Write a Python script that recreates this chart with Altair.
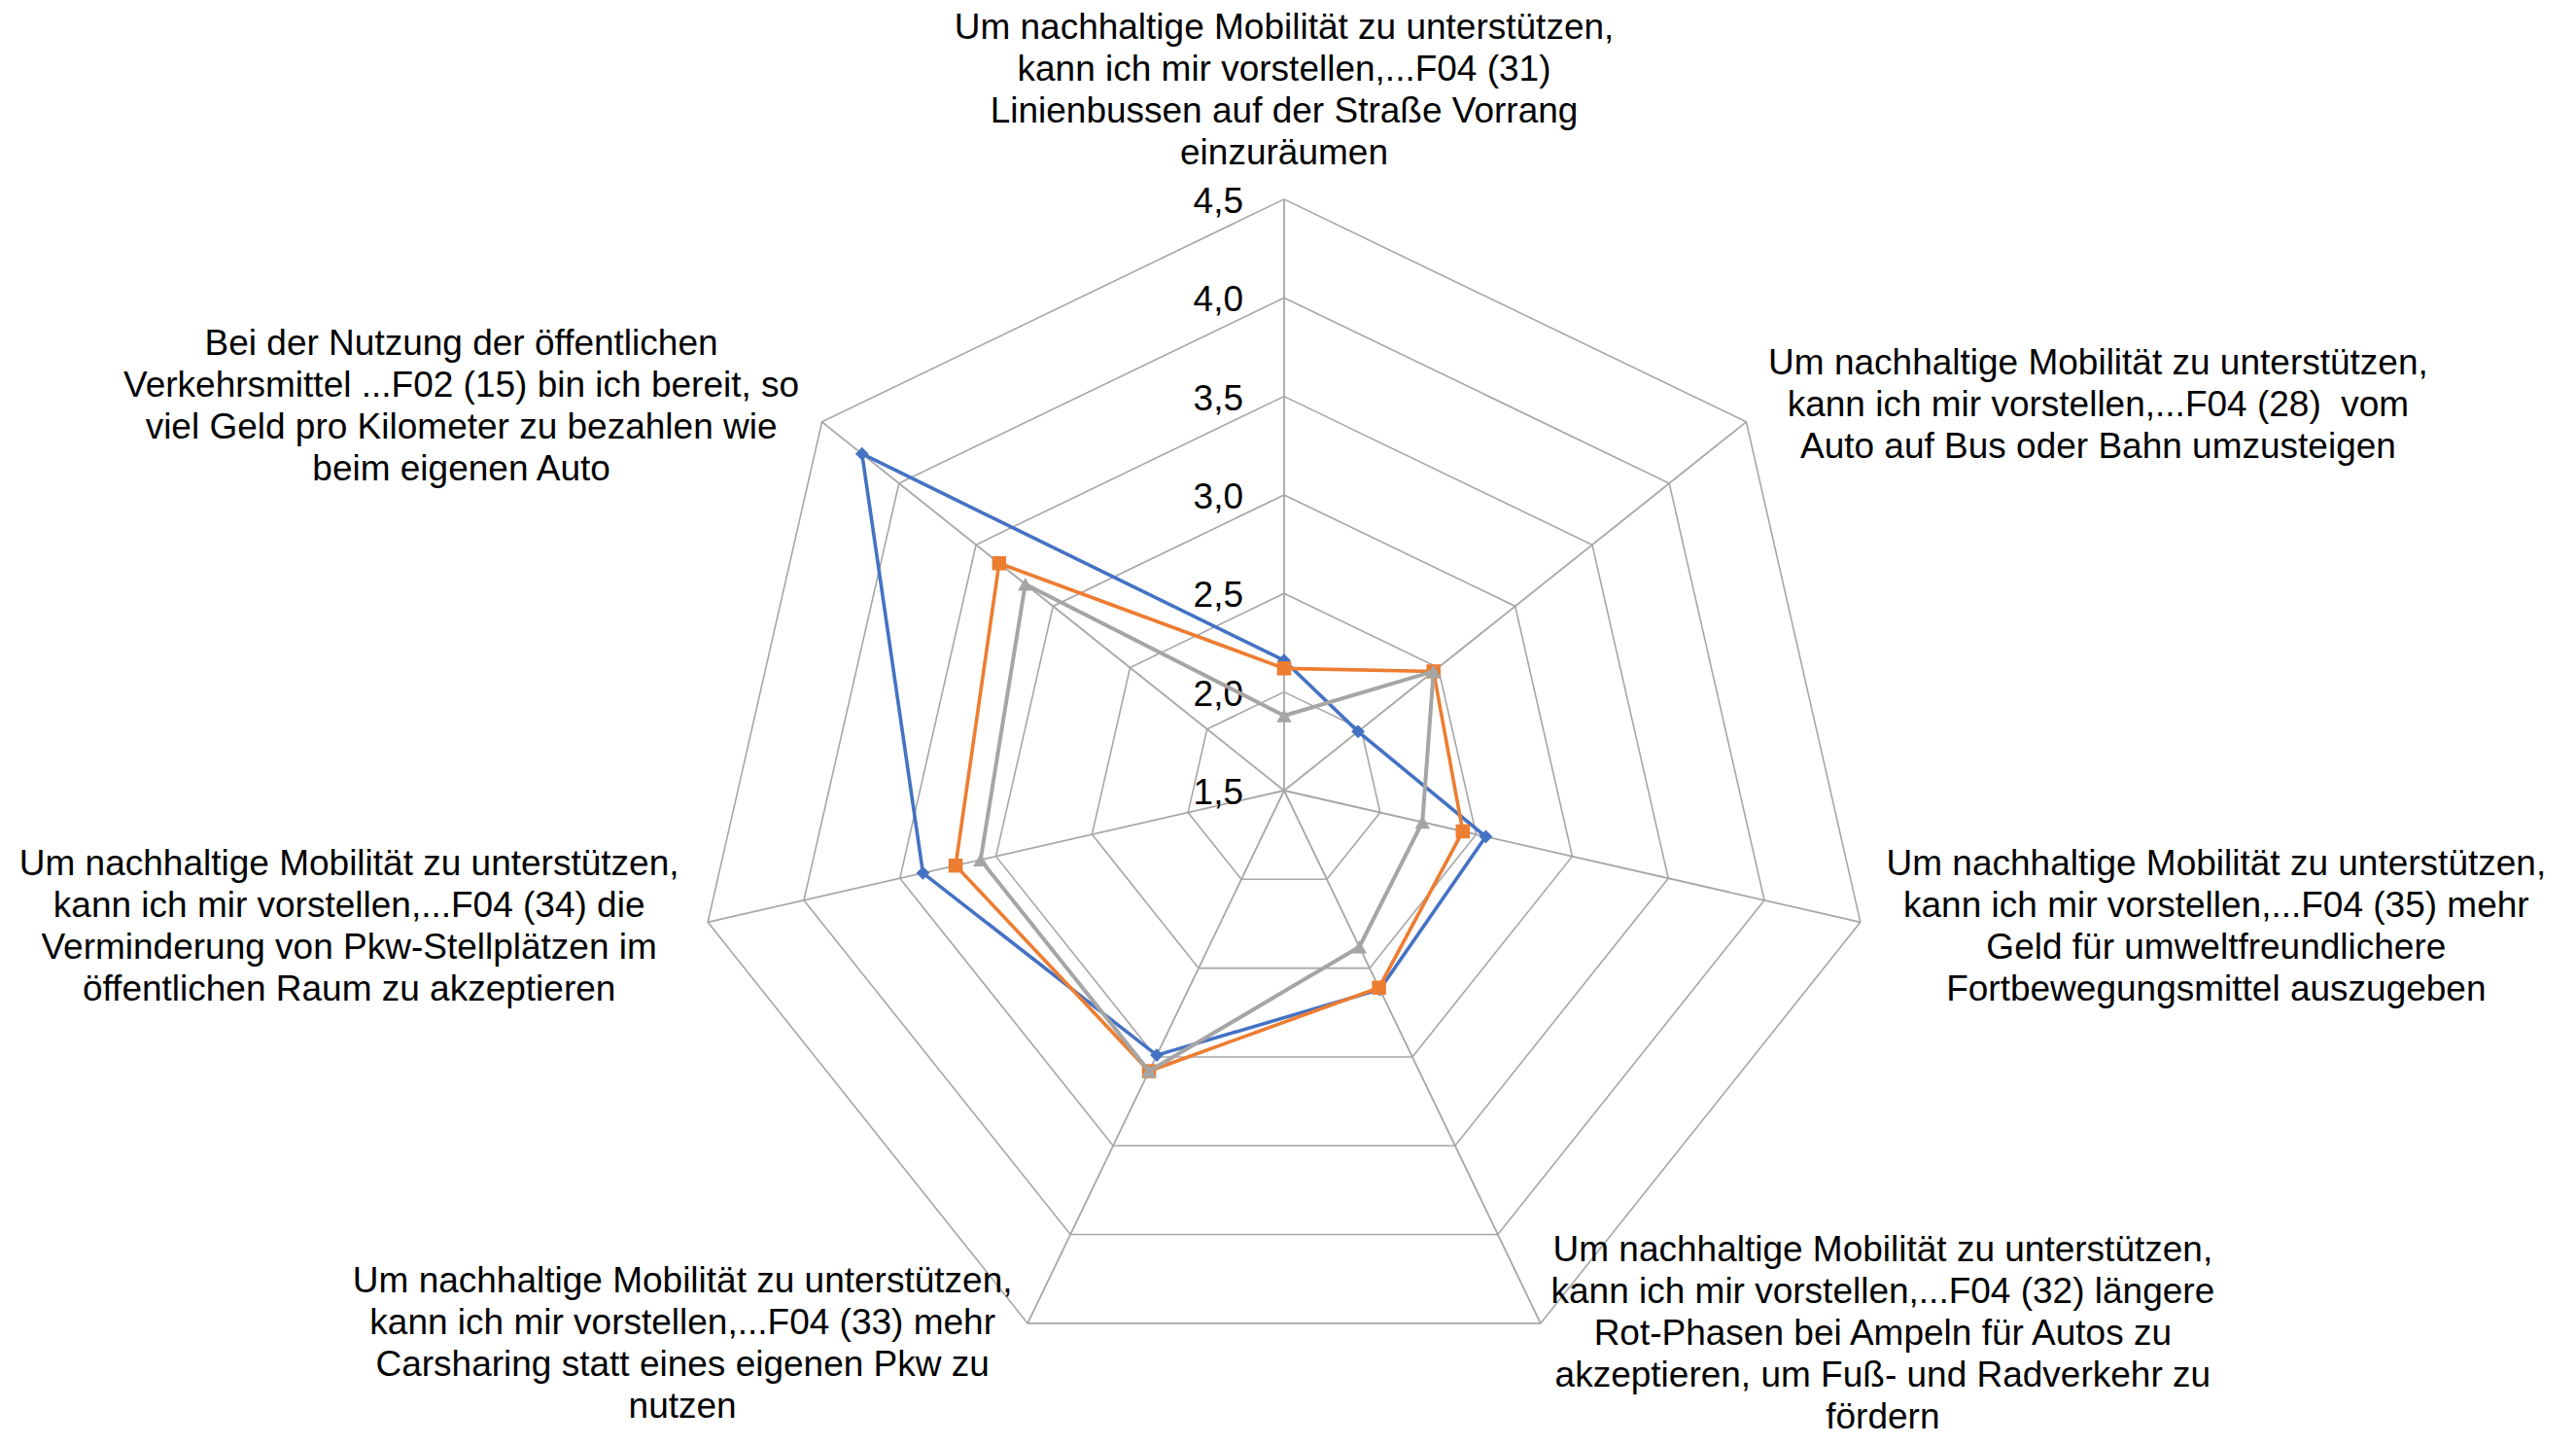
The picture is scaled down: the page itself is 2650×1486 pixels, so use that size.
import math
import altair as alt
import pandas as pd

# ---------------- data ----------------
categories = [
    "Um nachhaltige Mobilität zu unterstützen,\nkann ich mir vorstellen,...F04 (31)\nLinienbussen auf der Straße Vorrang\neinzuräumen",
    "Um nachhaltige Mobilität zu unterstützen,\nkann ich mir vorstellen,...F04 (28)\u00a0 vom\nAuto auf Bus oder Bahn umzusteigen",
    "Um nachhaltige Mobilität zu unterstützen,\nkann ich mir vorstellen,...F04 (35) mehr\nGeld für umweltfreundlichere\nFortbewegungsmittel auszugeben",
    "Um nachhaltige Mobilität zu unterstützen,\nkann ich mir vorstellen,...F04 (32) längere\nRot-Phasen bei Ampeln für Autos zu\nakzeptieren, um Fuß- und Radverkehr zu\nfördern",
    "Um nachhaltige Mobilität zu unterstützen,\nkann ich mir vorstellen,...F04 (33) mehr\nCarsharing statt eines eigenen Pkw zu\nnutzen",
    "Um nachhaltige Mobilität zu unterstützen,\nkann ich mir vorstellen,...F04 (34) die\nVerminderung von Pkw-Stellplätzen im\nöffentlichen Raum zu akzeptieren",
    "Bei der Nutzung der öffentlichen\nVerkehrsmittel ...F02 (15) bin ich bereit, so\nviel Geld pro Kilometer zu bezahlen wie\nbeim eigenen Auto",
]
series_names = ["Reihe 1", "Reihe 2", "Reihe 3"]
series_1 = [2.16, 1.98, 2.55, 2.62, 2.99, 3.38, 4.24]
series_2 = [2.12, 2.47, 2.43, 2.61, 3.08, 3.21, 3.35]
series_3 = [1.88, 2.47, 2.22, 2.38, 3.08, 3.08, 3.18]
tick_values = [1.5, 2.0, 2.5, 3.0, 3.5, 4.0, 4.5]
tick_labels = ["1,5", "2,0", "2,5", "3,0", "3,5", "4,0", "4,5"]

# ---------------- layout / style ----------------
N = len(categories)
R_MIN = tick_values[0]
R_MAX = tick_values[-1]
W, H = 2634, 1470
CX, CY = 1313, 805           # centre of the radar in plot pixels
PX_PER_UNIT = 202.7
XDOM = [-CX / PX_PER_UNIT, (W - CX) / PX_PER_UNIT]
YDOM = [-(H - CY) / PX_PER_UNIT, CY / PX_PER_UNIT]
FONT = "Liberation Sans"
FS = 37
LH = 43
GRID = "#a6a6a6"

series_colors = ["#4472C4", "#ED7D31", "#A5A5A5"]
series_shapes = ["diamond", "square", "triangle-up"]
series_sizes = [190, 210, 240]
series_widths = [3.6, 3.6, 4.0]

# offsets of each label block centre from the outer vertex (pixels)
label_offsets = [(0, -111), (362, -17), (366, 5), (352, 11),
                 (-355, 22), (-369, 5), (-371, -15)]

xs = alt.Scale(domain=XDOM, nice=False, zero=False)
ys = alt.Scale(domain=YDOM, nice=False, zero=False)


def polar(chart):
    return chart.transform_calculate(
        r=f"datum.value - {R_MIN}",
        theta=f"datum.idx * 2 * PI / {N}",
    ).transform_calculate(
        x="datum.r * sin(datum.theta)",
        y="datum.r * cos(datum.theta)",
    )


X = alt.X("x:Q", scale=xs, axis=None)
Y = alt.Y("y:Q", scale=ys, axis=None)

# grid rings
ring_rows = []
for lv in tick_values[1:]:
    for k in range(N + 1):
        ring_rows.append({"level": lv, "value": lv, "idx": k % N, "order": k})
rings = polar(alt.Chart(pd.DataFrame(ring_rows))).mark_line(
    color=GRID, strokeWidth=1.6
).encode(x=X, y=Y, detail="level:N", order="order:Q")

# spokes
spoke_df = pd.DataFrame({"idx": list(range(N)), "value": [R_MAX] * N})
spokes = polar(alt.Chart(spoke_df)).transform_calculate(
    x0="0", y0="0"
).mark_rule(color=GRID, strokeWidth=1.8).encode(
    x=alt.X("x0:Q", scale=xs, axis=None),
    y=alt.Y("y0:Q", scale=ys, axis=None),
    x2="x:Q", y2="y:Q",
)

# tick labels
tick_df = pd.DataFrame({"value": tick_values, "label": tick_labels, "idx": [0] * len(tick_values)})
ticks = polar(alt.Chart(tick_df)).mark_text(
    align="right", baseline="middle", dx=-42, dy=3, font=FONT, fontSize=FS, color="#000000"
).encode(x=X, y=Y, text="label:N")

layers = [rings, spokes, ticks]

# category labels
cat_df = pd.DataFrame({"idx": list(range(N)), "value": [R_MAX] * N, "label": categories})
for i, (dx, dy) in enumerate(label_offsets):
    nlines = categories[i].count("\n") + 1
    layers.append(
        polar(alt.Chart(cat_df)).transform_filter(f"datum.idx == {i}").mark_text(
            align="center", baseline="middle", dx=dx, dy=dy - (nlines - 1) * LH / 2,
            font=FONT, fontSize=FS, lineHeight=LH, lineBreak="\n", color="#000000"
        ).encode(x=X, y=Y, text="label:N")
    )

# series
for name, vals, col, shp, sz, sw in zip(series_names, [series_1, series_2, series_3],
                                         series_colors, series_shapes, series_sizes, series_widths):
    rows = [{"series": name, "idx": k % N, "order": k, "value": vals[k % N]} for k in range(N + 1)]
    base = polar(alt.Chart(pd.DataFrame(rows)))
    layers.append(base.mark_line(color=col, strokeWidth=sw).encode(x=X, y=Y, order="order:Q"))
    layers.append(
        base.transform_filter(f"datum.order < {N}").mark_point(
            shape=shp, size=sz, filled=True, color=col, opacity=1
        ).encode(x=X, y=Y)
    )

chart = alt.layer(*layers).properties(
    width=W, height=H,
    autosize=alt.AutoSizeParams(type="none"),
    padding=0,
    background="white",
).configure_view(stroke=None)

chart.save("out.html", embed_options={"renderer": "svg", "actions": False})
